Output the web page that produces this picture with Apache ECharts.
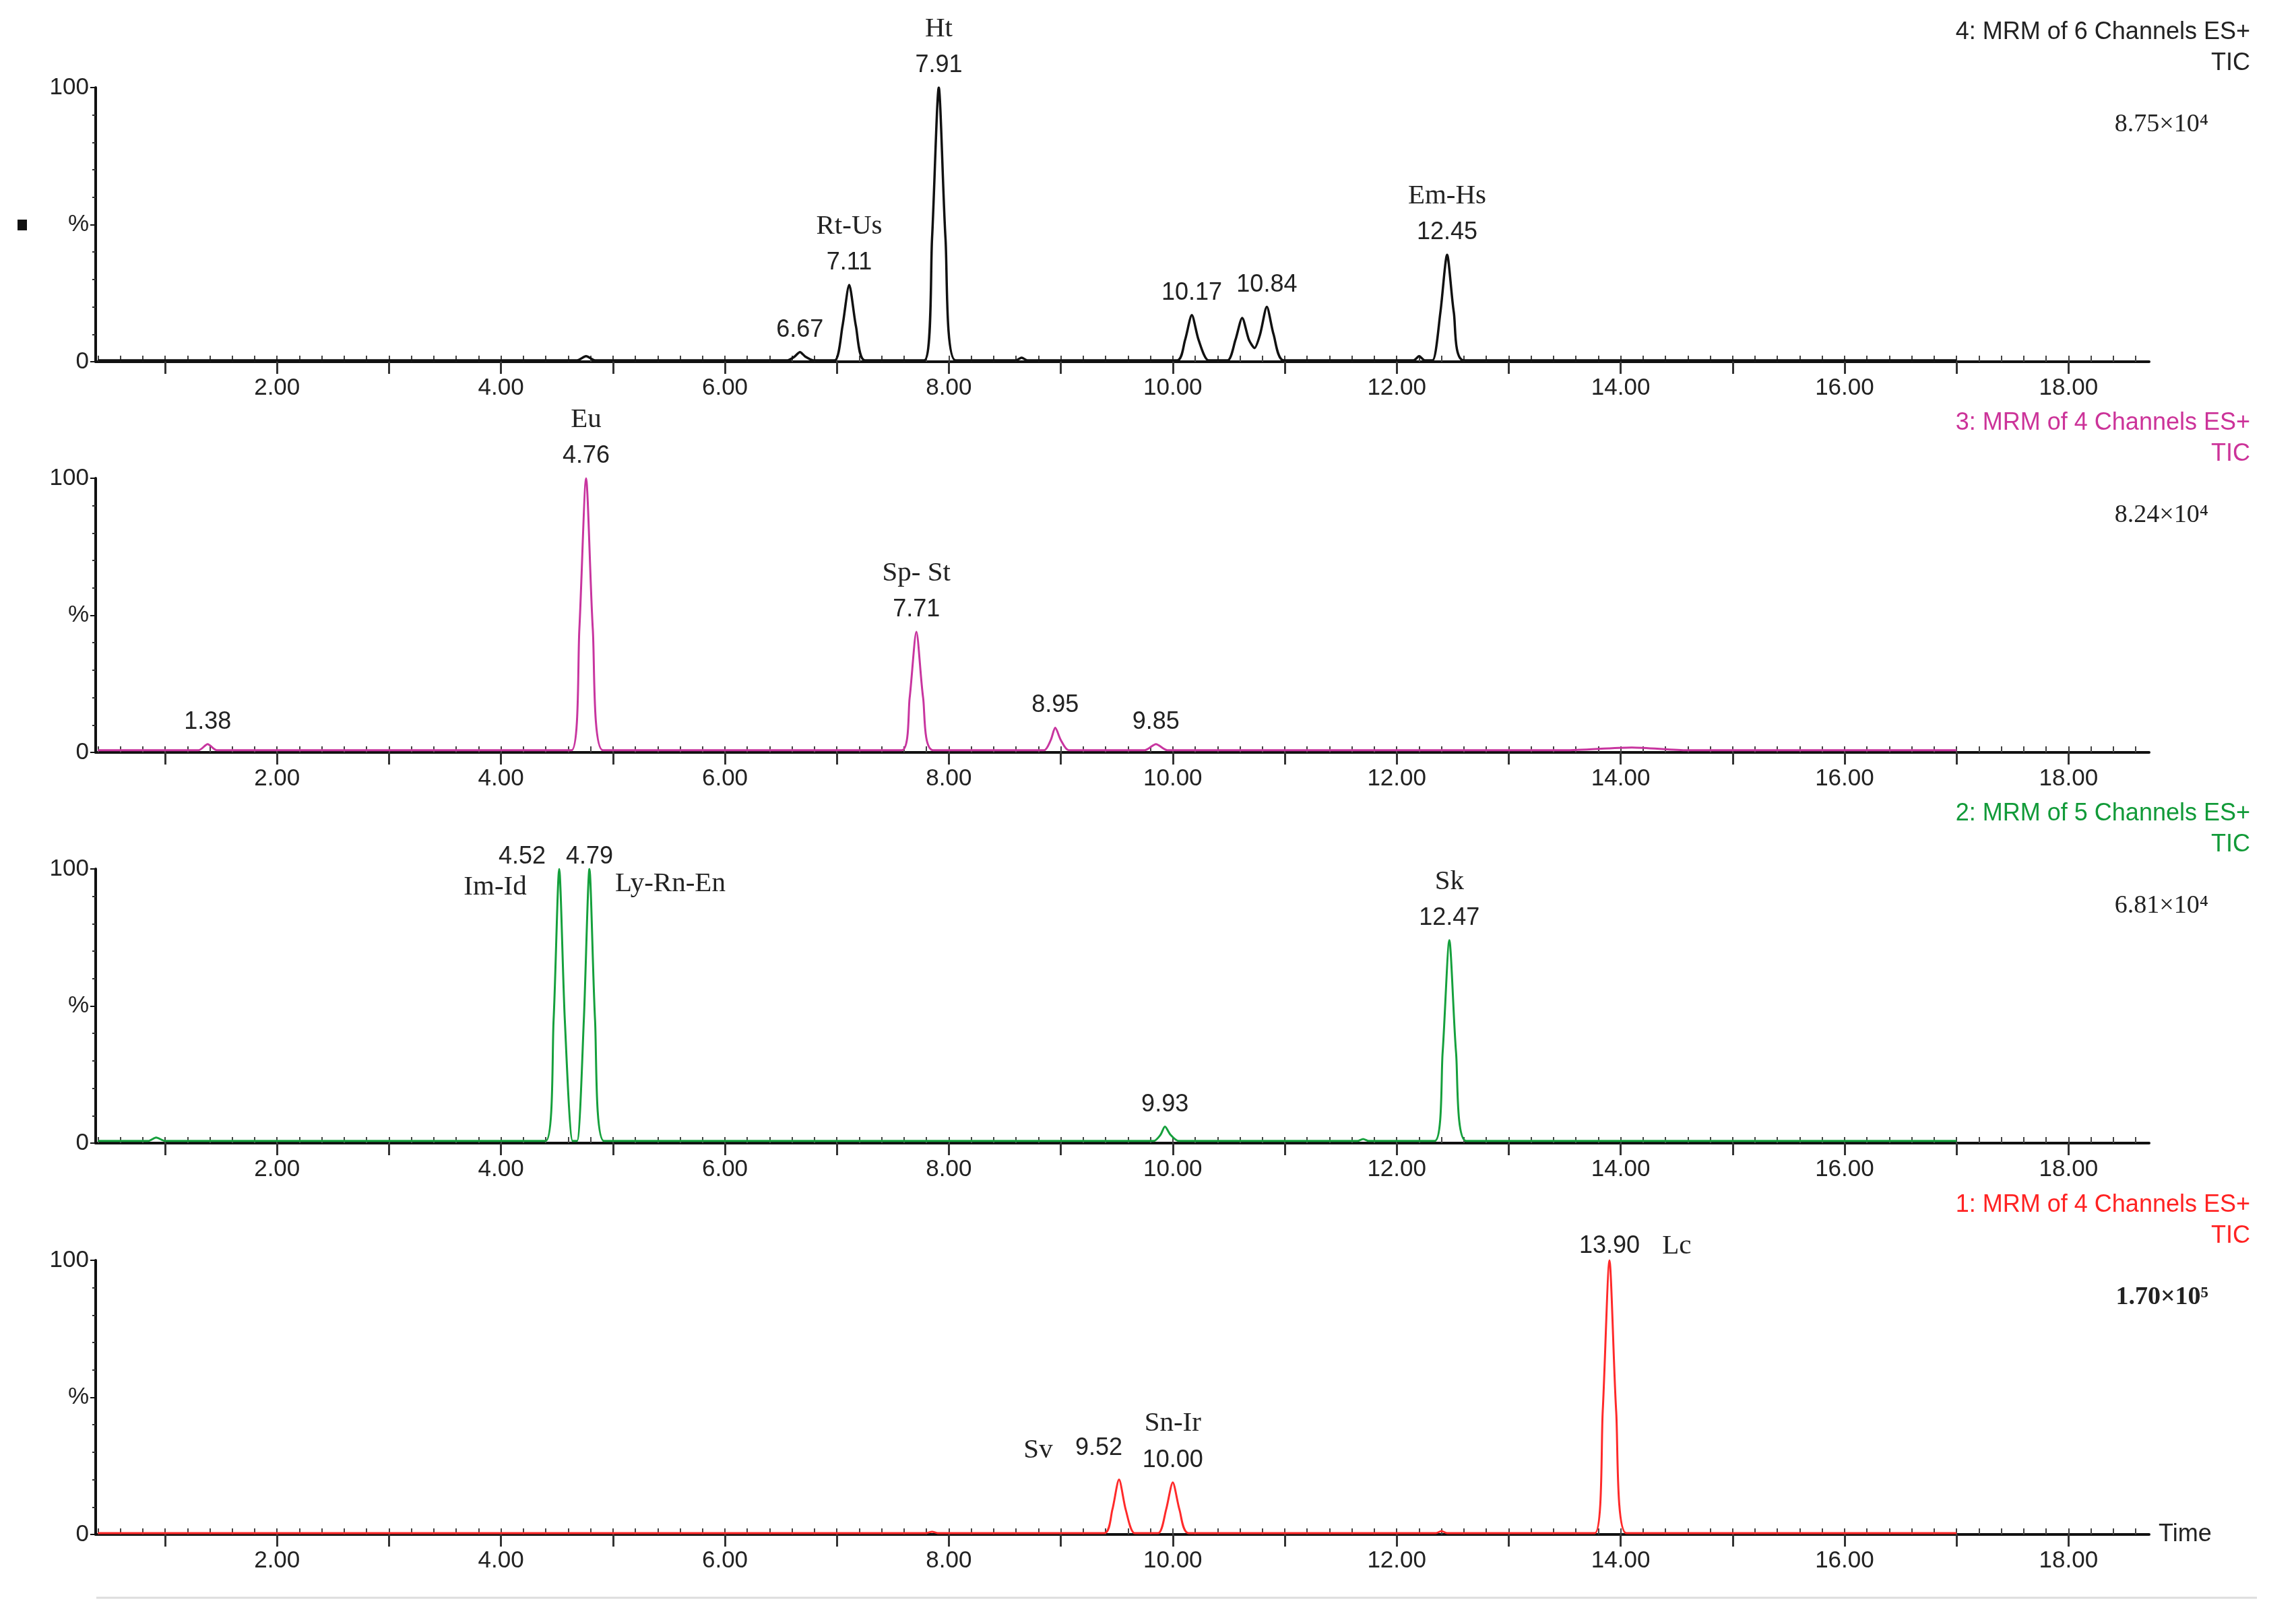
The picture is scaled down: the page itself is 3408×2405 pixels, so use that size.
<!DOCTYPE html>
<html><head><meta charset="utf-8">
<script src="https://cdn.jsdelivr.net/npm/echarts@6/dist/echarts.min.js"></script>
<style>html,body{margin:0;padding:0;background:#fff}#c{width:3408px;height:2405px}</style>
</head><body><div id="c"></div>
<script>
const xTicks = [2,4,6,8,10,12,14,16,18];
const yTicks = [0,50,100];
const panelTitles = ['4: MRM of 6 Channels ES+','3: MRM of 4 Channels ES+','2: MRM of 5 Channels ES+','1: MRM of 4 Channels ES+'];
const panelScales = ['8.75×10⁴','8.24×10⁴','6.81×10⁴','1.70×10⁵'];
const panelColors = ['#111111','#c8359f','#15a03c','#ff2a2a'];
const titleColors = ['#222222','#cc3399','#119a38','#ff2222'];

const tic4 = [[0.4,0.5],[4.68,0.5],[4.76,2],[4.84,0.5],
 [6.56,0.5],[6.62,1.8],[6.67,3.5],[6.72,1.8],[6.79,0.5],
 [6.98,0.5],[7.05,13],[7.11,28],[7.17,13],[7.25,0.5],
 [7.78,0.5],[7.85,45],[7.91,100],[7.97,45],[8.06,0.5],
 [8.6,0.5],[8.65,1.5],[8.7,0.5],
 [10.04,0.5],[10.11,8],[10.17,17],[10.23,8],[10.32,0.5],
 [10.49,0.5],[10.56,8],[10.62,16],[10.68,8],[10.73,5],[10.78,10],[10.84,20],[10.9,10],[10.99,0.5],
 [12.15,0.5],[12.2,2],[12.25,0.5],
 [12.32,0.5],[12.39,18],[12.45,39],[12.51,18],[12.6,0.5],[17.0,0.5]];
const tic3 = [[0.4,0.8],[1.3,0.8],[1.38,3],[1.46,0.8],
 [4.63,0.8],[4.7,45],[4.76,100],[4.82,45],[4.91,0.8],
 [7.58,0.8],[7.65,20],[7.71,44],[7.77,20],[7.86,0.8],
 [8.85,0.8],[8.91,4.5],[8.95,9],[9.0,4.5],[9.07,0.8],
 [9.75,0.8],[9.85,3],[9.95,0.8],
 [13.5,0.8],[14.1,1.8],[14.6,0.8],[17.0,0.8]];
const tic2 = [[0.4,0.8],[0.85,0.8],[0.92,2],[1.0,0.8],
 [4.4,0.8],[4.47,45],[4.52,100],[4.57,45],[4.64,0.8],[4.68,0.8],[4.74,45],[4.79,100],[4.84,45],[4.92,0.8],
 [9.83,0.8],[9.89,3],[9.93,6],[9.98,3],[10.05,0.8],
 [11.65,0.8],[11.7,1.5],[11.75,0.8],
 [12.34,0.8],[12.41,33],[12.47,74],[12.53,33],[12.62,0.8],[17.0,0.8]];
const tic1 = [[0.4,0.5],[7.8,0.5],[7.85,1],[7.9,0.5],
 [9.39,0.5],[9.46,9],[9.52,20],[9.58,9],[9.66,0.5],
 [9.87,0.5],[9.94,9],[10.0,19],[10.06,9],[10.14,0.5],
 [12.35,0.5],[12.4,1.2],[12.45,0.5],
 [13.77,0.5],[13.84,45],[13.9,100],[13.96,45],[14.05,0.5],[17.0,0.5]];
const seriesData = [tic4, tic3, tic2, tic1];

const notes4 = [[6.67,3.5,'6.67',''],[7.11,28,'7.11','Rt-Us'],[7.91,100,'7.91','Ht'],[10.17,17,'10.17',''],[10.84,20,'10.84',''],[12.45,39,'12.45','Em-Hs']];
const notes3 = [[1.38,3,'1.38',''],[4.76,100,'4.76','Eu'],[7.71,44,'7.71','Sp- St'],[8.95,9,'8.95',''],[9.85,3,'9.85','']];
const notes2 = [[9.93,6,'9.93',''],[12.47,74,'12.47','Sk']];
const notes1 = [[10.0,19,'10.00','Sn-Ir']];
const notes = [notes4, notes3, notes2, notes1];
const side2 = [[4.52,100,'4.52','a'],[4.79,100,'4.79','a'],[4.52,100,'Im-Id','b'],[4.79,100,'Ly-Rn-En','b']];
const side1 = [[9.52,20,'Sv','b'],[9.52,20,'9.52','a'],[13.9,100,'13.90','a'],[13.9,100,'Lc','b']];
const sideOffsets = {'4.52':[-55,15],'4.79':[0,15],'Im-Id':[-95,60],'Ly-Rn-En':[120,55],'Sv':[-120,-10],'9.52':[-30,-14],'13.90':[0,12],'Lc':[100,12]};
const sides = [[],[],side2,side1];

const L=142, R=218, H=407, tops=[130,710,1290,1871];
const numStyle={fontFamily:'Liberation Sans, Arial',fontSize:36,color:'#222'};
const nameStyle={fontFamily:'Liberation Serif, Times New Roman',fontSize:41,color:'#222'};

const grids=[],xAxes=[],yAxes=[],series=[],graphic=[];
for(let i=0;i<4;i++){
  grids.push({left:L,right:R,top:tops[i],height:H});
  xAxes.push({type:'value',gridIndex:i,min:0.38,max:18.72,
    name:i===3?'Time':'',nameLocation:'end',nameGap:14,nameTextStyle:{fontFamily:'Liberation Sans',fontSize:36,color:'#222'},
    axisLine:{onZero:false,lineStyle:{color:'#111',width:4}},
    axisTick:{customValues:[1,2,3,4,5,6,7,8,9,10,11,12,13,14,15,16,17,18],length:18,lineStyle:{color:'#333',width:3}},
    axisLabel:{customValues:xTicks,formatter:v=>v.toFixed(2),fontFamily:'Liberation Sans, Arial',fontSize:35,color:'#222',margin:22},
    splitLine:{show:false}});
  xAxes.push({type:'value',gridIndex:i,min:0.38,max:18.72,axisLine:{show:false},
    axisTick:{customValues:Array.from({length:92},(_,k)=>+(0.4+k*0.2).toFixed(1)),length:9,lineStyle:{color:'#444',width:2}},
    axisLabel:{show:false},splitLine:{show:false}});
  yAxes.push({type:'value',gridIndex:i,min:0,max:100,interval:50,
    axisLine:{show:true,lineStyle:{color:'#111',width:4}},
    axisTick:{show:true,length:8,lineStyle:{color:'#111',width:2}},
    minorTick:{show:true,splitNumber:5,length:5,lineStyle:{color:'#333',width:2}},
    axisLabel:{formatter:v=>v===50?'%':String(v),fontFamily:'Liberation Sans, Arial',fontSize:35,color:'#222',margin:10},
    splitLine:{show:false}});
  const mp=notes[i].map(n=>({coord:[n[0],n[1]],value:n[2],
    label:{formatter:n[3]?'{b|'+n[3]+'}\n{a|'+n[2]+'}':'{a|'+n[2]+'}'}}));
  sides[i].forEach(s=>mp.push({coord:[s[0],s[1]],value:s[2],
    label:{offset:sideOffsets[s[2]],formatter:'{'+s[3]+'|'+s[2]+'}'}}));
  series.push({type:'line',xAxisIndex:2*i,yAxisIndex:i,data:seriesData[i],showSymbol:false,smooth:0.25,
    lineStyle:{color:panelColors[i],width:i===0?3.5:3},
    markPoint:{symbol:'circle',symbolSize:0,silent:true,
      label:{show:true,position:'top',distance:6,lineHeight:54,color:'#222',rich:{a:numStyle,b:nameStyle}},data:mp}});
  graphic.push({type:'text',right:68,top:tops[i]-100,style:{text:panelTitles[i],font:'36px "Liberation Sans"',fill:titleColors[i]}});
  graphic.push({type:'text',right:68,top:tops[i]-54,style:{text:'TIC',font:'36px "Liberation Sans"',fill:titleColors[i]}});
  graphic.push({type:'text',right:130,top:tops[i]+36,style:{text:panelScales[i],font:(i===3?'bold ':'')+'38px "Liberation Serif"',fill:'#222'}});
}
graphic.push({type:'rect',shape:{x:26,y:326,width:14,height:16},style:{fill:'#111'}});
graphic.push({type:'line',shape:{x1:143,y1:2372,x2:3350,y2:2372},style:{stroke:'#ddd',lineWidth:3}});

const chart=echarts.init(document.getElementById('c'));
chart.setOption({animation:false,backgroundColor:'#fff',grid:grids,xAxis:xAxes,yAxis:yAxes,series:series,graphic:graphic});
</script></body></html>
